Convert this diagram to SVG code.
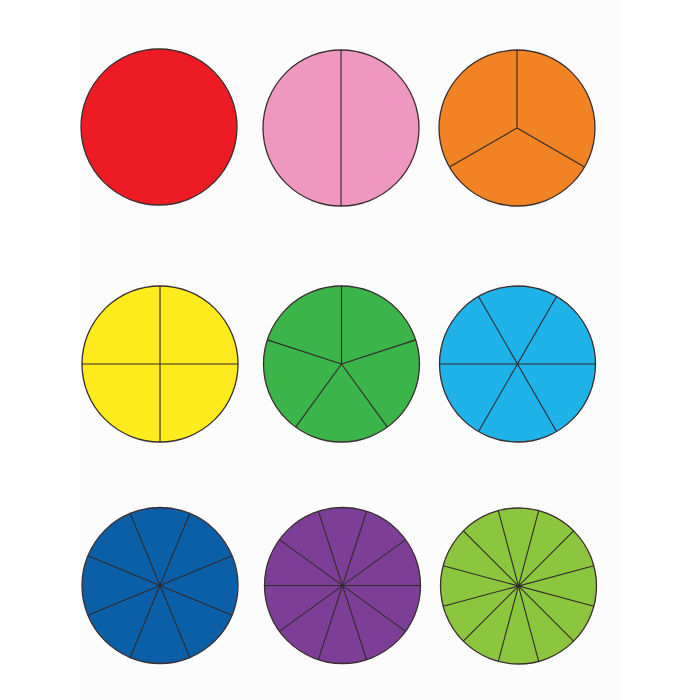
<svg xmlns="http://www.w3.org/2000/svg" width="700" height="700" viewBox="0 0 700 700">
<style>
.c{stroke:#3a2e2e;stroke-width:1.3}
.d{stroke:#2e2a2a;stroke-width:1.1;fill:none}
</style>
<defs>
<line id="v" x1="0" y1="-78" x2="0" y2="78"/>
<line id="h" x1="0" y1="0" x2="0" y2="-78"/>
</defs>
<rect width="700" height="700" fill="#ffffff"/>
<rect x="80" y="0" width="538" height="700" fill="#fcfcfc"/>
<g id="red" transform="translate(159,127)">
<circle class="c" r="78" fill="#ed1c24"/>
</g>
<g id="pink" transform="translate(341,128)">
<circle class="c" r="78" fill="#f097c1"/>
<g class="d"><use href="#v"/></g>
</g>
<g id="orange" transform="translate(517,128)">
<circle class="c" r="78" fill="#f28325"/>
<g class="d"><use href="#h"/><use href="#h" transform="rotate(120)"/><use href="#h" transform="rotate(240)"/></g>
</g>
<g id="yellow" transform="translate(160,364)">
<circle class="c" r="78" fill="#fdeb1e"/>
<g class="d"><use href="#v"/><use href="#v" transform="rotate(90)"/></g>
</g>
<g id="green" transform="translate(341.5,364)">
<circle class="c" r="78" fill="#3bb54a"/>
<g class="d"><use href="#h"/><use href="#h" transform="rotate(72)"/><use href="#h" transform="rotate(144)"/><use href="#h" transform="rotate(216)"/><use href="#h" transform="rotate(288)"/></g>
</g>
<g id="cyan" transform="translate(517.5,364)">
<circle class="c" r="78" fill="#1fb3ea"/>
<g class="d"><use href="#v" transform="rotate(30)"/><use href="#v" transform="rotate(90)"/><use href="#v" transform="rotate(150)"/></g>
</g>
<g id="blue" transform="translate(160,585.5)">
<circle class="c" r="78" fill="#0b5fa6"/>
<g class="d"><use href="#v" transform="rotate(22.5)"/><use href="#v" transform="rotate(67.5)"/><use href="#v" transform="rotate(112.5)"/><use href="#v" transform="rotate(157.5)"/></g>
</g>
<g id="purple" transform="translate(342.5,585.5)">
<circle class="c" r="78" fill="#7d3e98"/>
<g class="d"><use href="#v" transform="rotate(18)"/><use href="#v" transform="rotate(54)"/><use href="#v" transform="rotate(90)"/><use href="#v" transform="rotate(126)"/><use href="#v" transform="rotate(162)"/></g>
</g>
<g id="lightgreen" transform="translate(518.5,586)">
<circle class="c" r="78" fill="#8cc63f"/>
<g class="d"><use href="#v" transform="rotate(15)"/><use href="#v" transform="rotate(45)"/><use href="#v" transform="rotate(75)"/><use href="#v" transform="rotate(105)"/><use href="#v" transform="rotate(135)"/><use href="#v" transform="rotate(165)"/></g>
</g>
</svg>
